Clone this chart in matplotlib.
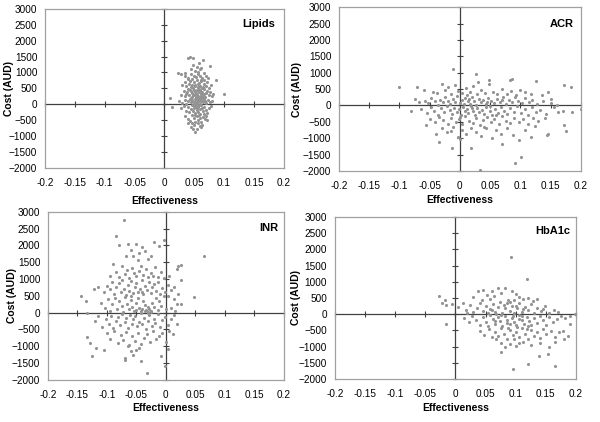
import numpy as np
import matplotlib
matplotlib.use("Agg")
import matplotlib.pyplot as plt

plt.rcParams['font.family'] = ['Liberation Sans', 'DejaVu Sans']

# (effectiveness, cost in AUD) samples
lipids_pts = [
    (0.043, 1490), (0.048, 1470), (0.040, 1460), (0.064, 1385), (0.076, 1210), (0.022, 990),
    (0.027, 950), (0.035, 970), (0.087, 760), (0.100, 340), (0.010, 210), (0.012, -70),
    (0.052, -865), (0.061, -700), (0.072, -490), (0.039, -590),
    (0.048, 1250), (0.055, 1180), (0.060, 1100), (0.052, 1050), (0.058, 1290), (0.062, 1150),
    (0.045, 1120), (0.057, 1020),
    (0.035, 880), (0.040, 820), (0.044, 960), (0.050, 900), (0.053, 850), (0.056, 940),
    (0.059, 880), (0.063, 820), (0.066, 980), (0.070, 900), (0.047, 780), (0.061, 760), (0.073, 830),
    (0.030, 620), (0.034, 700), (0.037, 560), (0.041, 650), (0.043, 740), (0.046, 600),
    (0.048, 520), (0.050, 700), (0.052, 610), (0.054, 760), (0.056, 540), (0.058, 680),
    (0.060, 590), (0.062, 720), (0.064, 550), (0.067, 640), (0.069, 580), (0.072, 700),
    (0.075, 520), (0.078, 600), (0.044, 530), (0.051, 580), (0.057, 650), (0.063, 500),
    (0.039, 780), (0.066, 750),
    (0.028, 300), (0.032, 420), (0.035, 260), (0.038, 380), (0.040, 480), (0.042, 300),
    (0.044, 410), (0.046, 220), (0.047, 350), (0.049, 460), (0.050, 280), (0.051, 380),
    (0.053, 240), (0.054, 440), (0.055, 330), (0.056, 480), (0.057, 260), (0.058, 390),
    (0.059, 210), (0.060, 450), (0.061, 320), (0.062, 260), (0.063, 400), (0.065, 300),
    (0.066, 470), (0.068, 230), (0.070, 350), (0.072, 420), (0.074, 280), (0.076, 380),
    (0.079, 250), (0.082, 330), (0.048, 300), (0.052, 410), (0.055, 200), (0.058, 470),
    (0.061, 380), (0.064, 230), (0.036, 340), (0.043, 460), (0.067, 340), (0.053, 320), (0.057, 410),
    (0.025, 100), (0.030, 50), (0.034, 150), (0.037, 20), (0.040, 120), (0.043, 180),
    (0.045, 60), (0.047, 140), (0.049, 10), (0.051, 170), (0.052, 80), (0.054, 130),
    (0.055, 30), (0.056, 190), (0.058, 90), (0.059, 160), (0.060, 20), (0.062, 110),
    (0.064, 60), (0.066, 180), (0.068, 100), (0.070, 40), (0.073, 150), (0.076, 80),
    (0.080, 120), (0.050, 60), (0.057, 110), (0.063, 170), (0.045, 190), (0.053, 10),
    (0.027, -120), (0.032, -60), (0.036, -200), (0.039, -90), (0.042, -250), (0.044, -150),
    (0.046, -30), (0.048, -220), (0.050, -110), (0.052, -280), (0.053, -50), (0.055, -180),
    (0.056, -240), (0.057, -80), (0.059, -160), (0.060, -290), (0.061, -20), (0.063, -130),
    (0.065, -220), (0.067, -70), (0.069, -170), (0.071, -260), (0.074, -110), (0.078, -40),
    (0.054, -120), (0.058, -10), (0.049, -60),
    (0.035, -380), (0.040, -450), (0.043, -520), (0.046, -340), (0.049, -420), (0.051, -560),
    (0.054, -380), (0.056, -480), (0.058, -350), (0.060, -430), (0.062, -540), (0.064, -390),
    (0.066, -310), (0.068, -460), (0.070, -370), (0.052, -330), (0.057, -600), (0.047, -580),
    (0.045, -700), (0.050, -650), (0.055, -760), (0.059, -680), (0.063, -640), (0.048, -780),
]

acr_pts = [
    (-0.100, 550), (-0.071, 560), (-0.081, -180), (-0.056, -610), (-0.035, -1110), (-0.011, 1100),
    (-0.013, -1290), (0.019, -1290), (0.027, 950), (0.033, -1970), (0.048, 770), (0.070, -1190),
    (0.083, 770), (0.087, 820), (0.101, -1580), (0.091, -1760), (0.126, 750), (0.173, 635),
    (0.184, 570), (0.200, -100), (0.175, -770), (0.172, -610), (0.144, -900), (0.163, -210),
    (0.151, 210),
    (-0.045, 420), (-0.038, 380), (-0.030, 650), (-0.025, 480), (-0.020, 560), (-0.015, 350),
    (-0.008, 620), (-0.003, 450), (0.004, 380), (0.010, 520), (0.016, 410), (0.022, 600),
    (0.028, 350), (0.035, 470), (0.042, 390), (0.048, 650), (0.055, 420), (0.062, 340),
    (0.070, 500), (0.078, 360), (0.085, 440), (0.092, 330), (0.100, 480), (0.108, 410),
    (0.118, 360), (0.135, 310), (0.145, 400), (-0.060, 470), (0.030, 700), (0.012, 330),
    (-0.058, 150), (-0.052, 60), (-0.047, 230), (-0.042, 120), (-0.037, 20), (-0.033, 180),
    (-0.028, 90), (-0.024, 260), (-0.020, 140), (-0.016, 40), (-0.012, 200), (-0.008, 110),
    (-0.004, 280), (0.000, 70), (0.003, 170), (0.006, 30), (0.009, 230), (0.013, 120),
    (0.017, 50), (0.020, 260), (0.024, 150), (0.027, 10), (0.031, 210), (0.035, 90),
    (0.039, 160), (0.043, 40), (0.047, 240), (0.052, 130), (0.056, 60), (0.061, 200),
    (0.066, 110), (0.071, 250), (0.076, 30), (0.081, 180), (0.086, 90), (0.091, 270),
    (0.096, 140), (0.102, 60), (0.108, 220), (0.114, 100), (0.120, 170), (0.128, 40),
    (0.137, 150), (0.150, 80), (0.160, 20), (-0.068, 100), (-0.075, 210), (0.015, 190),
    (0.045, 110), (0.070, 160),
    (-0.065, -110), (-0.055, -230), (-0.048, -60), (-0.043, -180), (-0.036, -280), (-0.031, -90),
    (-0.026, -200), (-0.021, -30), (-0.017, -150), (-0.013, -260), (-0.009, -70), (-0.005, -210),
    (-0.001, -120), (0.002, -290), (0.005, -40), (0.008, -180), (0.011, -100), (0.014, -240),
    (0.018, -20), (0.021, -160), (0.025, -280), (0.028, -80), (0.032, -200), (0.036, -130),
    (0.040, -250), (0.044, -50), (0.049, -170), (0.053, -290), (0.058, -100), (0.063, -220),
    (0.068, -40), (0.073, -160), (0.078, -270), (0.083, -80), (0.089, -190), (0.095, -30),
    (0.101, -240), (0.107, -120), (0.113, -290), (0.119, -60), (0.126, -200), (0.133, -130),
    (0.142, -250), (0.155, -60), (0.170, -170), (0.185, -200), (0.020, -90), (0.050, -20),
    (-0.050, -420), (-0.042, -520), (-0.035, -350), (-0.028, -460), (-0.020, -560), (-0.014, -380),
    (-0.007, -500), (-0.002, -420), (0.004, -580), (0.009, -330), (0.015, -470), (0.021, -540),
    (0.027, -390), (0.033, -600), (0.038, -440), (0.045, -350), (0.051, -510), (0.057, -410),
    (0.064, -580), (0.070, -330), (0.076, -470), (0.083, -550), (0.090, -380), (0.097, -500),
    (0.104, -430), (0.112, -560), (0.121, -370), (0.130, -480), (0.140, -380), (0.000, -350),
    (0.060, -300),
    (-0.040, -880), (-0.030, -700), (-0.022, -820), (-0.012, -650), (-0.003, -960), (0.003, -750),
    (0.010, -880), (0.018, -680), (0.026, -800), (0.035, -920), (0.044, -700), (0.053, -980),
    (0.060, -760), (0.068, -860), (0.078, -680), (0.088, -900), (0.098, -1050), (0.108, -740),
    (0.118, -960), (0.125, -640), (0.145, -870), (0.000, -1020), (-0.015, -790), (0.040, -650),
]

inr_pts = [
    (-0.071, 2755), (-0.084, 2275), (-0.080, 2000), (-0.144, 490), (-0.136, 360), (-0.133, 0),
    (-0.134, -735), (-0.128, -890), (-0.118, -1060), (-0.126, -1300), (-0.105, -1110), (-0.032, -1790),
    (0.064, 1690), (0.047, 460), (0.013, 420), (0.026, 970), (0.025, 1410), (-0.003, 2170),
    (-0.020, 2090), (-0.069, -1400), (-0.043, -1450), (0.003, -1090), (-0.001, -1600),
    (-0.009, -1300), (-0.122, 700),
    (-0.065, 2050), (-0.060, 1850), (-0.055, 1700), (-0.050, 2050), (-0.045, 1780), (-0.040, 1950),
    (-0.035, 1820), (-0.030, 1600), (-0.025, 1700), (-0.012, 1980), (-0.068, 1700), (-0.048, 1560),
    (-0.090, 1450), (-0.085, 1200), (-0.080, 1050), (-0.075, 1380), (-0.070, 1150), (-0.066, 1280),
    (-0.062, 1020), (-0.058, 1330), (-0.054, 1180), (-0.050, 1080), (-0.046, 1250), (-0.042, 1400),
    (-0.038, 1120), (-0.034, 1300), (-0.030, 1050), (-0.026, 1180), (-0.022, 1100), (-0.018, 1350),
    (-0.014, 1070), (-0.008, 1220), (-0.003, 1030), (0.018, 1300), (0.021, 1380), (-0.095, 1100),
    (0.005, 1100),
    (-0.105, 600), (-0.100, 800), (-0.095, 700), (-0.092, 900), (-0.088, 550), (-0.084, 760),
    (-0.080, 880), (-0.077, 620), (-0.074, 960), (-0.071, 700), (-0.068, 520), (-0.065, 830),
    (-0.062, 650), (-0.059, 940), (-0.056, 580), (-0.053, 760), (-0.050, 870), (-0.047, 620),
    (-0.044, 710), (-0.041, 980), (-0.038, 540), (-0.035, 800), (-0.032, 660), (-0.029, 900),
    (-0.026, 570), (-0.023, 750), (-0.020, 850), (-0.017, 630), (-0.013, 920), (-0.010, 560),
    (-0.006, 720), (-0.002, 600), (0.003, 830), (0.008, 680), (0.014, 760), (0.020, 560),
    (-0.115, 750), (-0.060, 500), (-0.040, 600),
    (-0.110, 300), (-0.104, 150), (-0.099, 420), (-0.095, 60), (-0.091, 270), (-0.087, 440),
    (-0.083, 120), (-0.079, 350), (-0.075, 200), (-0.072, 30), (-0.069, 470), (-0.066, 260),
    (-0.063, 100), (-0.060, 380), (-0.057, 180), (-0.054, 40), (-0.051, 300), (-0.048, 440),
    (-0.045, 140), (-0.042, 60), (-0.039, 360), (-0.036, 220), (-0.033, 90), (-0.031, 20),
    (-0.028, 120), (-0.025, 50), (-0.023, 280), (-0.020, 160), (-0.017, 430), (-0.014, 70),
    (-0.011, 340), (-0.008, 200), (-0.004, 480), (0.000, 100), (0.004, 500), (0.009, 150),
    (0.015, 60), (0.019, 250), (0.025, 270), (-0.035, 50), (-0.030, 160), (-0.026, 20),
    (-0.040, 110), (-0.050, 80),
    (-0.108, -420), (-0.102, -200), (-0.097, -330), (-0.093, -90), (-0.089, -450), (-0.085, -250),
    (-0.081, -140), (-0.078, -380), (-0.074, -30), (-0.070, -290), (-0.067, -170), (-0.064, -470),
    (-0.061, -60), (-0.058, -340), (-0.055, -200), (-0.052, -110), (-0.049, -410), (-0.046, -270),
    (-0.043, -20), (-0.040, -350), (-0.037, -150), (-0.034, -480), (-0.031, -240), (-0.028, -80),
    (-0.024, -390), (-0.021, -180), (-0.018, -300), (-0.014, -50), (-0.010, -430), (-0.006, -220),
    (-0.002, -120), (0.003, -360), (0.008, -200), (0.013, -60), (0.018, -340), (-0.120, -250),
    (-0.115, -100), (-0.030, -20),
    (-0.100, -620), (-0.094, -780), (-0.088, -550), (-0.082, -900), (-0.077, -680), (-0.072, -820),
    (-0.067, -580), (-0.062, -960), (-0.057, -700), (-0.052, -850), (-0.047, -600), (-0.042, -920),
    (-0.037, -750), (-0.032, -640), (-0.027, -880), (-0.022, -560), (-0.017, -780), (-0.012, -700),
    (-0.006, -600), (0.000, -870), (0.006, -540), (0.012, -650), (-0.065, -1000), (-0.045, -1050),
    (-0.070, -1350), (-0.055, -1250), (-0.050, -1100), (-0.060, -1150),
]

hba1c_pts = [
    (-0.027, 550), (-0.023, 330), (-0.017, 430), (-0.016, 275), (-0.006, 300), (-0.016, -305),
    (0.093, 1775), (0.119, 1070), (0.095, -1690), (0.121, -1540), (0.165, -1610), (0.153, -1220),
    (0.138, -1290), (0.075, -1170), (0.190, -300), (0.198, 0), (0.190, -60), (0.186, -690),
    (0.178, -510),
    (0.030, 520), (0.038, 700), (0.045, 740), (0.052, 600), (0.058, 480), (0.064, 560),
    (0.070, 820), (0.076, 650), (0.082, 800), (0.088, 450), (0.094, 700), (0.100, 620),
    (0.106, 540), (0.112, 460), (0.120, 500), (0.128, 420), (0.060, 720), (0.044, 430),
    (0.098, 430), (0.135, 470),
    (0.005, 220), (0.012, 350), (0.018, 130), (0.024, 280), (0.030, 60), (0.035, 200),
    (0.040, 350), (0.045, 100), (0.050, 260), (0.054, 20), (0.058, 170), (0.062, 320),
    (0.066, 80), (0.070, 230), (0.074, 380), (0.078, 40), (0.082, 190), (0.086, 330),
    (0.090, 110), (0.094, 260), (0.098, 20), (0.102, 180), (0.106, 340), (0.110, 80),
    (0.115, 230), (0.120, 120), (0.125, 300), (0.130, 40), (0.136, 190), (0.142, 90),
    (0.148, 250), (0.155, 30), (0.163, 120), (0.170, 60), (0.080, 290), (0.060, 140),
    (0.100, 250), (0.090, 370), (0.068, 10), (0.112, 150), (0.020, 20), (0.145, 160),
    (0.015, -120), (0.022, -250), (0.028, -60), (0.034, -180), (0.040, -320), (0.045, -90),
    (0.050, -230), (0.054, -370), (0.058, -40), (0.062, -160), (0.066, -300), (0.070, -100),
    (0.074, -220), (0.078, -380), (0.082, -50), (0.086, -170), (0.090, -310), (0.094, -120),
    (0.098, -250), (0.102, -390), (0.106, -30), (0.110, -180), (0.114, -290), (0.118, -80),
    (0.122, -210), (0.126, -350), (0.130, -130), (0.135, -260), (0.140, -60), (0.145, -190),
    (0.150, -320), (0.156, -100), (0.162, -230), (0.168, -140), (0.175, -60), (0.182, -120),
    (0.095, -60), (0.105, -150), (0.085, -280), (0.075, -20), (0.100, -330), (0.120, -380),
    (0.065, -200), (0.110, -60),
    (0.040, -520), (0.048, -640), (0.055, -470), (0.060, -720), (0.065, -560), (0.070, -680),
    (0.075, -430), (0.080, -600), (0.085, -760), (0.090, -480), (0.095, -650), (0.100, -540),
    (0.105, -720), (0.110, -440), (0.115, -600), (0.120, -780), (0.125, -500), (0.130, -660),
    (0.135, -560), (0.140, -740), (0.145, -450), (0.150, -620), (0.158, -520), (0.165, -700),
    (0.172, -560), (0.180, -780), (0.088, -420), (0.098, -780), (0.068, -780), (0.118, -470),
    (0.075, -880), (0.082, -1000), (0.090, -920), (0.100, -980), (0.112, -860), (0.125, -940),
    (0.140, -900), (0.155, -1000), (0.165, -860), (0.106, -900),
]

titles = ["Lipids", "ACR", "INR", "HbA1c"]
datasets = [lipids_pts, acr_pts, inr_pts, hba1c_pts]
x_ticks = np.arange(-0.2, 0.2001, 0.05)
y_ticks = np.arange(-2000, 3001, 500)
x_labels = ["-0.2", "-0.15", "-0.1", "-0.05", "0", "0.05", "0.1", "0.15", "0.2"]

# layout per panel: axes box [left, bottom, width, height], title anchor, label anchors
boxes = [
    [0.075, 0.602, 0.398, 0.377],
    [0.565, 0.595, 0.403, 0.388],
    [0.080, 0.100, 0.393, 0.398],
    [0.558, 0.102, 0.402, 0.384],
]
title_pos = [(0.962, 0.906), (0.971, 0.900), (0.979, 0.905), (0.976, 0.914)]
ylabel_x = [-0.130, -0.153, -0.131, -0.141]
xlabel_y = [-0.176, -0.146, -0.137, -0.148]

fig = plt.figure(figsize=(6, 4.22), dpi=100)

for i, (box, title, pts) in enumerate(zip(boxes, titles, datasets)):
    ax = fig.add_axes(box)
    xs, ys = np.array(pts).T
    ax.scatter(xs, ys, s=5, color="#939393", linewidths=0, zorder=3)
    ax.set_xlim(-0.2, 0.2)
    ax.set_ylim(-2000, 3000)
    ax.set_xticks(x_ticks)
    ax.set_xticklabels(x_labels)
    ax.set_yticks(y_ticks)
    ax.tick_params(length=0, labelsize=7.2, colors="#000000")
    ax.tick_params(axis="x", pad=7.5)
    ax.tick_params(axis="y", pad=5.5)
    for sp in ax.spines.values():
        sp.set_color("#a0a0a0")
        sp.set_linewidth(0.9)
    ax.set_xlabel("Effectiveness", fontsize=7.5, fontweight="bold")
    ax.set_ylabel("Cost (AUD)", fontsize=7.5, fontweight="bold")
    ax.xaxis.set_label_coords(0.5, xlabel_y[i])
    ax.yaxis.set_label_coords(ylabel_x[i], 0.5)
    ax.text(title_pos[i][0], title_pos[i][1], title, transform=ax.transAxes,
            ha="right", va="center", fontsize=8, fontweight="bold")

    # axes crossing at zero with cross tick marks
    sx = ax.secondary_xaxis(0.4)
    sx.set_xticks(x_ticks)
    sx.tick_params(direction="inout", length=5, width=0.8, color="#404040",
                   labelbottom=False, labeltop=False)
    for sp in sx.spines.values():
        sp.set_color("#404040")
        sp.set_linewidth(0.9)
    sy = ax.secondary_yaxis(0.5)
    sy.set_yticks(y_ticks)
    sy.tick_params(direction="inout", length=5, width=0.8, color="#404040",
                   labelleft=False, labelright=False)
    for sp in sy.spines.values():
        sp.set_color("#404040")
        sp.set_linewidth(0.9)

fig.savefig("out.png", dpi=100)
